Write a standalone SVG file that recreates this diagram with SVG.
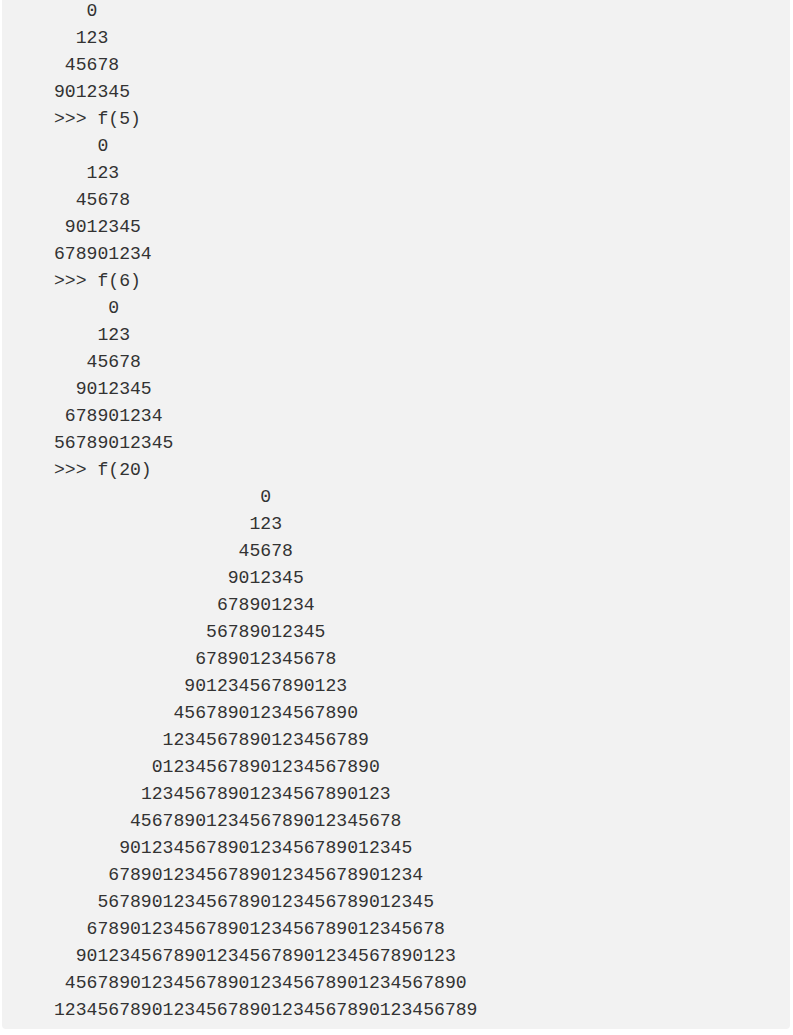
<svg xmlns="http://www.w3.org/2000/svg" width="793" height="1035" viewBox="0 0 793 1035">
<style>
.t{font-family:"Liberation Mono","Courier New",monospace;font-size:18.1px;fill:#333333}
</style>
<rect x="0" y="0" width="793" height="1035" fill="#ffffff"/>
<rect x="2" y="-10" width="788" height="1039" rx="4" ry="4" fill="#f2f2f2"/>
<g id="output">
<text class="t" x="86.58" y="16">0</text>
<text class="t" x="75.72" y="43">123</text>
<text class="t" x="64.86" y="70">45678</text>
<text class="t" x="54" y="97">9012345</text>
<text class="t" x="54" y="124">&gt;&gt;&gt; f(5)</text>
<text class="t" x="97.44" y="151">0</text>
<text class="t" x="86.58" y="178">123</text>
<text class="t" x="75.72" y="205">45678</text>
<text class="t" x="64.86" y="232">9012345</text>
<text class="t" x="54" y="259">678901234</text>
<text class="t" x="54" y="286">&gt;&gt;&gt; f(6)</text>
<text class="t" x="108.3" y="313">0</text>
<text class="t" x="97.44" y="340">123</text>
<text class="t" x="86.58" y="367">45678</text>
<text class="t" x="75.72" y="394">9012345</text>
<text class="t" x="64.86" y="421">678901234</text>
<text class="t" x="54" y="448">56789012345</text>
<text class="t" x="54" y="475">&gt;&gt;&gt; f(20)</text>
<text class="t" x="260.34" y="502">0</text>
<text class="t" x="249.48" y="529">123</text>
<text class="t" x="238.62" y="556">45678</text>
<text class="t" x="227.76" y="583">9012345</text>
<text class="t" x="216.9" y="610">678901234</text>
<text class="t" x="206.04" y="637">56789012345</text>
<text class="t" x="195.18" y="664">6789012345678</text>
<text class="t" x="184.32" y="691">901234567890123</text>
<text class="t" x="173.46" y="718">45678901234567890</text>
<text class="t" x="162.6" y="745">1234567890123456789</text>
<text class="t" x="151.74" y="772">012345678901234567890</text>
<text class="t" x="140.88" y="799">12345678901234567890123</text>
<text class="t" x="130.02" y="826">4567890123456789012345678</text>
<text class="t" x="119.16" y="853">901234567890123456789012345</text>
<text class="t" x="108.3" y="880">67890123456789012345678901234</text>
<text class="t" x="97.44" y="907">5678901234567890123456789012345</text>
<text class="t" x="86.58" y="934">678901234567890123456789012345678</text>
<text class="t" x="75.72" y="961">90123456789012345678901234567890123</text>
<text class="t" x="64.86" y="988">4567890123456789012345678901234567890</text>
<text class="t" x="54" y="1015">123456789012345678901234567890123456789</text>
</g>
</svg>
